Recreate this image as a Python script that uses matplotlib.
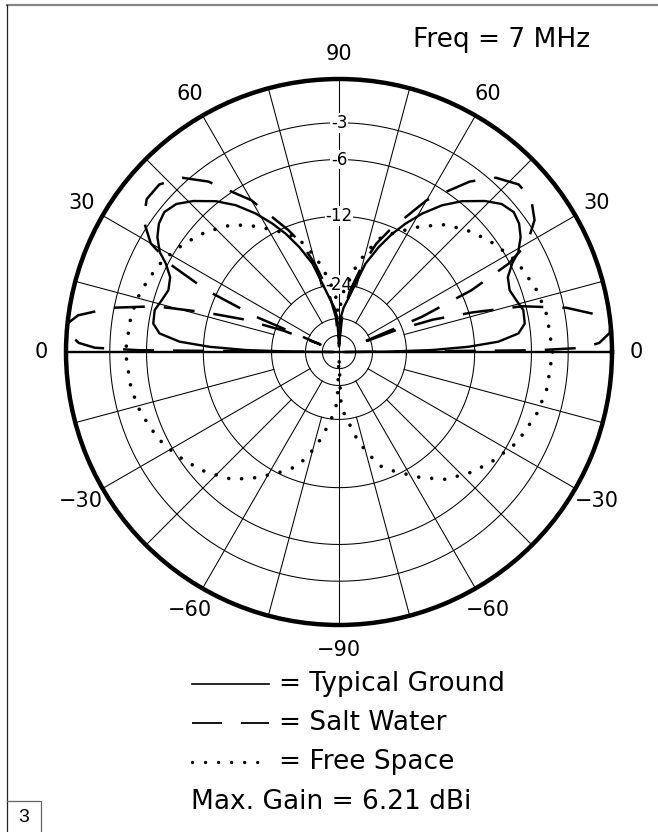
import numpy as np
import matplotlib.pyplot as plt

MAX_GAIN = 6.21   # dBi, value of the outer ring
FREQ_MHZ = 7

# elevation angle (deg) and gain (dBi) for one side; the other side is mirrored
ground_elev = [0, 0.4, 1.2, 2.3, 3.7, 5.9, 8.7, 12.8, 16.3, 19.9, 23.9, 27.1, 29.1, 32.3,
               35.5, 38.7, 42.3, 46, 50.8, 54.9, 59, 62.6, 65.8, 69.2, 73.3, 76.4, 80, 84, 87, 90]
ground_gain = [-60, -24.2, -12.3, -6.6, -3.0, -0.9, -0.2, -0.1, -0.5, -0.8, -0.5, 0.4, 1.3, 2.1,
               2.6, 2.8, 2.5, 1.7, 0.4, -1.0, -2.8, -4.7, -6.6, -9.0, -12.4, -17.1, -21.4, -24.8, -29.1, -60]

salt_elev = [0, 0.5, 1, 2, 4, 6, 8, 11, 14, 16.5, 19, 21, 22, 23, 25, 27.5, 30, 34,
             38.5, 43, 48, 52.5, 60, 67.5, 71, 75, 80, 85, 90]
salt_gain = [-60, 0.8, 4.3, 5.4, 6.1, 6.21, 5.6, 3.4, -0.1, -5.3, -11.1, -19.9, -38.7, -12.9,
             -4.5, 0.1, 2.3, 3.7, 4.4, 4.4, 3.6, 2.1, -1.4, -6.3, -8.7, -12.9, -19.3, -29.1, -60]

free_elev = [0, 10, 17, 24, 28, 35, 42, 50, 57, 65, 70, 73, 76, 79, 82, 86, 88, 90]
free_gain = [2.0, 1.8, 1.5, 1.0, 0.7, -0.1, -1.0, -2.3, -4.1, -6.3, -7.7, -9.5, -11.4,
             -13.7, -16.7, -19.9, -23.7, -60]

ring_db = [-3, -6, -12, -24, -36, -48]
ring_labels = ['-3', '-6', '-12', '-24']
angle_ticks = [90, 60, 30, 0, -30, -60, -90]
legend_names = ['Typical Ground', 'Salt Water', 'Free Space']


def arrl_radius(gain_db):
    # ARRL log-periodic scale: radius drops by 0.89 for every 2 dB down
    return 0.89 ** ((MAX_GAIN - np.asarray(gain_db, dtype=float)) / 2)


def ring_radius(rel_db):
    return 0.89 ** (-rel_db / 2)


def upper_half(elev, gain):
    e = np.asarray(elev, dtype=float)
    g = np.asarray(gain, dtype=float)
    theta = np.concatenate([e, 180 - e[::-1]])
    return np.radians(theta), np.concatenate([g, g[::-1]])


def full_circle(elev, gain):
    e = np.asarray(elev, dtype=float)
    g = np.asarray(gain, dtype=float)
    theta = np.concatenate([e, 180 - e[::-1], 180 + e, 360 - e[::-1]])
    return np.radians(theta), np.concatenate([g, g[::-1], g, g[::-1]])


plt.rcParams['font.family'] = 'DejaVu Sans'
fig = plt.figure(figsize=(6.58, 8.32), dpi=100)

# full-figure canvas in pixel units for the frame and the key
canvas = fig.add_axes([0, 0, 1, 1])
canvas.set_xlim(0, 658)
canvas.set_ylim(832, 0)
canvas.axis('off')

ax = fig.add_axes([0.1003, 0.2488, 0.8298, 0.65625], projection='polar')
ax.set_ylim(0, 1)
ax.set_xticks([])
ax.set_yticks([])
ax.grid(False)
ax.spines['polar'].set_linewidth(3.2)
ax.spines['polar'].set_color('black')

# grid rings
t = np.linspace(0, 2 * np.pi, 721)
for d in ring_db:
    ax.plot(t, np.full_like(t, ring_radius(d)), color='black', lw=0.75, zorder=1)

# radial lines: axes through the centre, 30 deg lines from the -36 dB ring,
# the 15 deg ones from the -24 dB ring
for ang in range(0, 360, 15):
    if ang % 90 == 0:
        r0 = 0
    elif ang % 30 == 0:
        r0 = ring_radius(-36)
    else:
        r0 = ring_radius(-24)
    lw = 1.7 if ang in (0, 180) else 0.75
    ax.plot([np.radians(ang)] * 2, [r0, 1], color='black', lw=lw, zorder=1)

for lab, d in zip(ring_labels, ring_db):
    ax.text(np.pi / 2, ring_radius(d), lab, ha='center', va='center', fontsize=12,
            bbox=dict(fc='white', ec='none', pad=0.6), zorder=2)

for a in angle_ticks:
    sides = [a] if abs(a) == 90 else [a, 180 - a]
    label = str(a).replace('-', '\u2212')
    for s in sides:
        ax.text(np.radians(s), 1.09, label, ha='center', va='center',
                fontsize=15, clip_on=False)

# patterns
solid_style = dict(color='black', lw=1.7, linestyle='-')
dash_style = dict(color='black', lw=1.8, linestyle=(0, (12.4, 7.6)), dash_capstyle='butt')
dot_style = dict(color='black', lw=2.6, linestyle=(0, (0.01, 3.6)), dash_capstyle='round')

th, g = upper_half(ground_elev, ground_gain)
ax.plot(th, arrl_radius(g), zorder=4, **solid_style)
th, g = upper_half(salt_elev, salt_gain)
ax.plot(th, arrl_radius(g), zorder=4, **dash_style)
th, g = full_circle(free_elev, free_gain)
ax.plot(th, arrl_radius(g), zorder=4, **dot_style)

canvas.text(502, 40, f'Freq = {FREQ_MHZ} MHz', fontsize=19, ha='center', va='center')

# key
key_y = [684, 723, 762]
canvas.plot([192, 269], [key_y[0]] * 2, color='black', lw=1.2)
canvas.plot([192, 269], [key_y[1]] * 2, color='black', lw=1.3,
            linestyle=(0, (16.6, 10.5)), dash_capstyle='butt')
canvas.plot([192, 270], [key_y[2]] * 2, color='black', lw=2.4,
            linestyle=(0, (0.01, 3.9)), dash_capstyle='round')
for y, name in zip(key_y, legend_names):
    canvas.text(279, y, f'= {name}', fontsize=19, ha='left', va='center')
canvas.text(191, 802, f'Max. Gain = {MAX_GAIN:.2f} dBi', fontsize=19, ha='left', va='center')

# page frame and figure number box
canvas.plot([7, 658], [5, 5], color='#858585', lw=1.6)
canvas.plot([7, 7], [5, 832], color='#222222', lw=0.9)
canvas.plot([7, 41, 41], [801, 801, 832], color='#666666', lw=0.9)
canvas.text(24, 817, '3', fontsize=14, ha='center', va='center', family='Liberation Sans')

fig.savefig('out.png', dpi=100)
